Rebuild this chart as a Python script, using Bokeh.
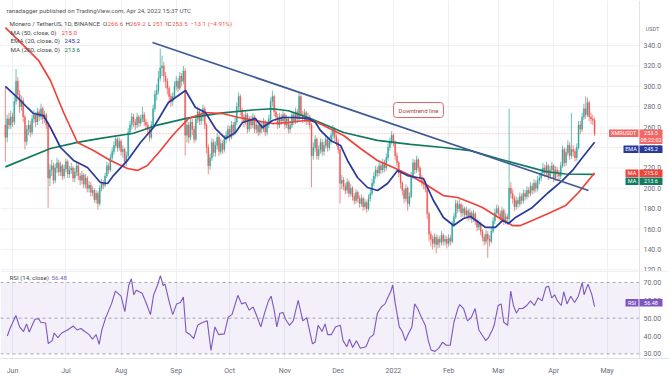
import pandas as pd
from bokeh.plotting import figure
from bokeh.layouts import column
from bokeh.models import (ColumnDataSource, FixedTicker, Label, Span, BoxAnnotation, Range1d)
from bokeh.embed import file_html
from bokeh.resources import INLINE

# ---------------- data ----------------
start_date = "2021-05-28"          # day index 0
month_dates = ["2021-06-01", "2021-07-01", "2021-08-01", "2021-09-01", "2021-10-01", "2021-11-01",
               "2021-12-01", "2022-01-01", "2022-02-01", "2022-03-01", "2022-04-01", "2022-05-01"]
month_labels = ["Jun", "Jul", "Aug", "Sep", "Oct", "Nov", "Dec", "2022", "Feb", "Mar", "Apr", "May"]
price_ticks = [120, 140, 160, 180, 200, 220, 240, 260, 280, 300, 320, 340]
rsi_ticks = [30, 40, 50, 60, 70]

first_open = 262
close = [
    250, 268, 262, 270, 265, 285, 305, 292, 280, 286,
    270, 246, 258, 262, 255, 268, 272, 265, 275, 270,
    278, 268, 272, 262, 210, 218, 222, 208, 220, 225,
    216, 222, 212, 219, 226, 214, 218, 220, 210, 216,
    222, 212, 208, 213, 204, 210, 200, 203, 196, 198,
    189, 195, 185, 200, 205, 203, 212, 222, 218, 230,
    236, 242, 248, 240, 246, 236, 238, 226, 232, 255,
    262, 270, 265, 262, 270, 264, 268, 272, 265, 262,
    258, 250, 262, 278, 292, 296, 308, 318, 320, 310,
    305, 298, 290, 285, 290, 300, 305, 298, 310, 305,
    315, 252, 262, 250, 265, 258, 248, 268, 275, 266,
    270, 278, 262, 240, 222, 230, 245, 235, 242, 250,
    236, 244, 238, 248, 252, 258, 250, 262, 255, 265,
    280, 290, 276, 270, 265, 272, 258, 268, 262, 270,
    258, 262, 255, 262, 258, 265, 255, 262, 268, 285,
    290, 275, 270, 262, 270, 266, 272, 262, 268, 258,
    262, 272, 266, 275, 268, 290, 272, 268, 274, 266,
    270, 262, 232, 240, 248, 232, 238, 245, 236, 242,
    248, 240, 246, 252, 258, 250, 245, 238, 205, 208,
    202, 198, 206, 195, 200, 192, 188, 196, 190, 185,
    190, 182, 186, 180, 190, 195, 205, 212, 218, 215,
    222, 218, 225, 220, 230, 240, 246, 252, 245, 232,
    225, 215, 205, 198, 190, 200, 185, 192, 212, 225,
    218, 228, 220, 210, 206, 204, 200, 175, 155, 150,
    146, 152, 145, 150, 147, 154, 148, 150, 146, 151,
    148, 165, 172, 185, 180, 184, 176, 180, 174, 178,
    172, 176, 170, 175, 168, 162, 165, 158, 152, 148,
    155, 150, 148, 158, 168, 176, 180, 175, 170, 178,
    168, 172, 170, 200, 195, 190, 182, 188, 185, 192,
    188, 195, 192, 198, 195, 202, 198, 205, 200, 208,
    210, 215, 220, 215, 222, 212, 218, 222, 210, 218,
    215, 212, 222, 238, 225, 235, 242, 232, 238, 236,
    230, 240, 262, 258, 270, 278, 272, 284, 270, 268,
    266.6, 253.5]
high = [
    300, 272, 274, 276, 274, 290, 317, 309, 296, 291,
    289, 272, 262, 267, 266, 272, 277, 275, 279, 278,
    283, 280, 276, 274, 265, 224, 228, 225, 224, 230,
    228, 226, 224, 223, 229, 228, 222, 225, 222, 220,
    226, 224, 215, 217, 215, 214, 212, 207, 206, 202,
    200, 198, 197, 203, 209, 208, 215, 226, 225, 234,
    240, 246, 252, 250, 250, 248, 242, 240, 236, 259,
    266, 274, 273, 268, 274, 272, 272, 280, 275, 268,
    265, 260, 266, 282, 296, 302, 315, 337, 330, 324,
    314, 308, 300, 293, 294, 305, 310, 308, 314, 313,
    320, 318, 268, 265, 270, 268, 261, 272, 280, 278,
    275, 282, 280, 264, 243, 234, 249, 248, 246, 254,
    252, 248, 247, 252, 256, 262, 261, 266, 265, 269,
    284, 294, 292, 279, 273, 276, 274, 271, 271, 274,
    272, 266, 265, 266, 265, 269, 267, 266, 272, 289,
    296, 292, 279, 273, 274, 273, 276, 274, 272, 270,
    266, 276, 275, 279, 278, 294, 292, 276, 278, 276,
    274, 272, 264, 245, 252, 250, 242, 249, 248, 246,
    252, 250, 250, 256, 262, 260, 253, 248, 240, 213,
    211, 205, 210, 208, 204, 202, 195, 199, 198, 193,
    194, 192, 190, 188, 194, 199, 209, 216, 222, 221,
    226, 225, 229, 228, 234, 244, 250, 256, 254, 247,
    235, 227, 217, 207, 200, 204, 202, 196, 216, 229,
    228, 232, 230, 222, 213, 209, 207, 202, 177, 158,
    154, 156, 155, 154, 153, 158, 156, 154, 153, 155,
    154, 168, 176, 189, 188, 189, 186, 184, 182, 182,
    180, 180, 178, 179, 177, 170, 169, 167, 160, 155,
    159, 158, 154, 162, 172, 180, 184, 183, 178, 182,
    180, 176, 175, 278, 206, 199, 193, 192, 191, 196,
    195, 199, 198, 202, 201, 206, 205, 209, 208, 212,
    214, 219, 225, 223, 226, 224, 222, 226, 224, 222,
    221, 218, 226, 242, 240, 239, 247, 245, 274, 242,
    239, 244, 266, 266, 274, 283, 290, 289, 286, 274,
    272, 269.2]
low = [
    226, 245, 258, 258, 260, 262, 282, 286, 274, 276,
    265, 238, 242, 252, 250, 252, 264, 260, 262, 266,
    267, 263, 264, 258, 181, 202, 212, 204, 205, 215,
    212, 212, 208, 209, 216, 210, 210, 214, 206, 206,
    212, 208, 203, 204, 200, 200, 196, 196, 192, 192,
    186, 185, 179, 183, 197, 199, 201, 210, 214, 216,
    227, 233, 239, 236, 237, 232, 230, 220, 222, 230,
    252, 258, 260, 257, 259, 260, 261, 265, 261, 257,
    253, 246, 248, 260, 275, 286, 292, 305, 310, 304,
    298, 292, 284, 280, 281, 287, 296, 294, 296, 300,
    302, 232, 245, 244, 247, 252, 244, 246, 264, 262,
    262, 266, 258, 234, 214, 218, 227, 231, 231, 238,
    232, 233, 234, 235, 244, 248, 246, 248, 251, 252,
    262, 276, 272, 265, 260, 262, 254, 255, 258, 259,
    254, 254, 251, 252, 254, 255, 251, 252, 259, 265,
    280, 271, 266, 258, 259, 262, 263, 258, 259, 254,
    254, 259, 262, 263, 264, 266, 268, 264, 265, 262,
    262, 258, 201, 228, 236, 228, 228, 234, 232, 232,
    239, 236, 237, 243, 248, 246, 241, 234, 185, 199,
    198, 194, 195, 191, 192, 188, 184, 185, 186, 181,
    182, 178, 179, 176, 178, 187, 193, 202, 209, 211,
    212, 214, 215, 216, 217, 227, 237, 243, 241, 228,
    221, 211, 200, 193, 185, 187, 178, 182, 190, 209,
    214, 215, 216, 206, 202, 199, 196, 170, 148, 143,
    140, 142, 136, 141, 142, 144, 144, 144, 141, 143,
    144, 146, 162, 170, 176, 177, 172, 172, 170, 171,
    168, 169, 166, 167, 164, 158, 159, 154, 148, 144,
    145, 132, 143, 146, 156, 165, 173, 171, 166, 167,
    164, 165, 164, 166, 190, 185, 178, 179, 181, 182,
    184, 185, 188, 189, 191, 192, 194, 195, 196, 197,
    204, 207, 212, 211, 212, 208, 209, 214, 206, 207,
    211, 208, 209, 220, 221, 222, 232, 228, 229, 231,
    226, 227, 238, 253, 255, 267, 268, 270, 266, 263,
    262, 251.1]

# moving averages (day index, value)
ma50_day = [0, 8.5, 18.6, 25.3, 32.7, 40.5, 49.5, 59, 68.6, 74.2, 79.8, 87.1, 93.9, 102.9, 112.4,
            122, 131, 140.5, 150, 159, 168.4, 174.2, 181, 190, 199.5, 209, 218, 227.6, 237.1, 246,
            254, 261.3, 268, 277, 284.9, 289.4, 296, 305, 314.7, 322, 331]
ma50_val = [357.6, 343, 325.5, 305.7, 274.3, 244.9, 237, 227.3, 219.4, 217.5, 222.4, 237, 251.8, 268.4,
            274.3, 273.3, 269.4, 266.5, 263.5, 264.5, 266.5, 265.5, 259.6, 251.8, 239, 227.3, 220.4,
            212.5, 202.7, 192.9, 191, 186, 181.2, 171.4, 163.5, 163.5, 168.4, 175.3, 183.1, 195.9, 215.0]
ema20_day = [0, 6.8, 12.4, 15.8, 21.4, 25.3, 31, 38.3, 46.1, 53.4, 57.4, 60.7, 68.6, 75.9, 83.2,
             91.6, 101.2, 106.8, 112.4, 118, 123.7, 129.3, 133.2, 140.5, 144.4, 150.1, 155.7, 163,
             170.3, 174.2, 177, 182.7, 188.3, 192.2, 197.8, 203.4, 209.1, 214.7, 220.3, 225.9, 231.5,
             234.9, 240.5, 246.1, 251.8, 257.4, 261.3, 269.8, 275.3, 279.3, 282.7, 286.6, 296.1,
             305.1, 312.9, 318.6, 324.2, 331]
ema20_val = [300, 289, 279, 273.3, 271.4, 259.6, 240, 227.3, 220.4, 205.7, 204.7, 212.5, 227.3, 244.9,
             259.6, 284.1, 295.9, 279.2, 274.3, 258.6, 248.8, 254.7, 264.5, 268.4, 259.6, 266.5, 269.4,
             269.4, 268.4, 264.5, 256.7, 246.9, 242, 227.3, 210.6, 200.8, 197.8, 204.7, 217.5, 212.5,
             210.6, 209.6, 188, 171.4, 163.5, 170.4, 172.4, 161.6, 161.6, 168.4, 165.5, 171.4, 181.2,
             195.9, 207.6, 217.5, 230.2, 245.2]
ma200_day = [0, 25.3, 40.5, 53.4, 72, 85.5, 102.9, 122, 140.5, 150, 159, 171.4, 190, 209, 227.6, 246,
             261.3, 277, 296, 303.4, 314.7, 331]
ma200_val = [221, 239, 245, 249, 254, 262, 269, 274, 277, 278, 276, 268.4, 254.7, 247, 243, 240, 237,
             229, 220, 216.5, 214, 213.6]
trend_day = [82.65, 327.6]
trend_val = [342.9, 197.8]

rsi_day = [1.1, 2.6, 5.9, 8.0, 10.2, 11.9, 13.4, 16.6, 18.8, 19.8,
           22.6, 24.1, 26.3, 27.4, 29.5, 31.7, 34.9, 38.1, 40.3, 42.4,
           44.6, 47.1, 48.9, 51.0, 52.7, 54.2, 56.4, 59.6, 61.8, 65.0,
           67.1, 69.3, 70.8, 72.1, 73.6, 76.8, 79.0, 81.5, 83.3, 85.4,
           87.1, 88.6, 89.7, 91.9, 94.0, 96.2, 98.3, 100.0, 101.5, 103.7,
           105.8, 108.0, 110.1, 113.4, 115.5, 117.7, 119.8, 123.0, 125.2, 127.3,
           130.6, 132.7, 134.9, 137.0, 139.2, 141.3, 143.5, 145.6, 147.8, 149.3,
           151.0, 152.5, 154.2, 156.0, 157.4, 159.6, 161.7, 164.5, 167.1, 169.3,
           172.5, 174.0, 175.7, 177.9, 179.6, 181.1, 183.2, 185.4, 188.2, 189.7,
           191.8, 193.3, 195.1, 197.2, 199.4, 202.6, 204.7, 206.9, 209.0, 211.2,
           213.3, 214.8, 216.6, 217.6, 219.1, 221.3, 223.0, 224.7, 226.2, 228.4,
           229.9, 231.6, 233.8, 235.9, 237.6, 239.1, 241.3, 243.4, 245.6, 247.7,
           249.9, 252.0, 254.2, 255.3, 257.4, 259.6, 261.7, 263.9, 266.0, 268.2,
           269.9, 271.4, 273.6, 274.6, 276.8, 278.5, 280.0, 282.2, 283.9, 285.4,
           287.1, 288.6, 290.7, 292.9, 295.0, 297.2, 299.3, 301.5, 303.7, 305.2,
           306.9, 308.6, 310.1, 312.3, 313.7, 315.5, 317.6, 319.8, 321.9, 324.1,
           325.1, 327.3, 329.5, 331]
rsi_val = [40.0, 44.2, 51.5, 45.1, 42.5, 46.8, 42.2, 49.4, 49.7, 47.7,
           47.3, 35.7, 37.4, 41.7, 39.1, 41.7, 43.4, 45.6, 43.4, 44.2,
           42.5, 40.8, 38.2, 40.8, 35.3, 43.4, 50.3, 58.0, 65.2, 62.3,
           53.7, 68.3, 72.1, 63.1, 65.7, 64.0, 58.8, 52.0, 63.1, 68.3,
           73.8, 68.3, 69.1, 59.7, 52.0, 58.0, 58.8, 61.8, 42.2, 40.8,
           38.6, 46.0, 47.3, 48.5, 31.9, 45.1, 40.8, 41.2, 50.6, 52.0,
           62.8, 58.0, 58.8, 54.5, 56.3, 51.1, 45.1, 52.8, 59.7, 62.3,
           54.5, 45.1, 52.8, 53.2, 49.4, 46.0, 48.5, 60.0, 48.5, 50.3,
           35.7, 36.5, 46.0, 42.5, 46.8, 40.8, 40.8, 45.1, 46.0, 37.4,
           34.0, 38.2, 33.6, 37.4, 33.1, 34.0, 39.1, 40.8, 52.8, 56.3,
           58.0, 61.4, 65.2, 68.6, 58.0, 45.1, 42.5, 37.4, 40.8, 45.1,
           58.0, 55.4, 50.3, 46.0, 37.4, 32.2, 31.4, 33.1, 36.5, 34.8,
           34.8, 47.7, 55.4, 57.6, 55.4, 48.5, 50.3, 55.4, 43.4, 40.0,
           37.4, 39.1, 43.4, 46.0, 57.1, 58.0, 47.7, 46.0, 65.2, 57.1,
           52.8, 55.4, 55.4, 57.1, 59.7, 57.1, 61.4, 59.7, 67.4, 67.9,
           61.4, 63.1, 59.7, 57.1, 64.8, 58.0, 62.3, 58.8, 62.3, 70.0,
           63.1, 69.1, 63.1, 56.48]

# ---------------- styling ----------------
FONT = "Roboto"
UP, DOWN = "#26a69a", "#ef5350"
C_MA50, C_EMA, C_MA200, C_TREND, C_RSI = "#f0433a", "#28399c", "#127a5e", "#3f5a96", "#7e57c2"
GRID = "#eef0f4"
AXC = "#6a6d78"
TXT = "#4a4a4a"
LEGF = "6.2px"
AXF = "7px"

start = pd.Timestamp(start_date)
month_ticks = [(pd.Timestamp(m) - start).days for m in month_dates]
overrides = {t: l for t, l in zip(month_ticks, month_labels)}

opens = [first_open] + close[:-1]
days = list(range(len(close)))
src = ColumnDataSource(dict(
    d=days, low=low, high=high,
    top=[max(o, c) for o, c in zip(opens, close)],
    bottom=[min(o, c) for o, c in zip(opens, close)],
    color=[UP if c >= o else DOWN for o, c in zip(opens, close)],
))

W = 669
AXIS_PX = 639                     # x of the price-scale border
xr = Range1d(-2.742, 373.1)       # frame spans the full width
axis_x = xr.start + (xr.end - xr.start) * AXIS_PX / W


def lab(fig, x, y, text, color=TXT, size=LEGF, align="left", yunits="screen", **kw):
    fig.add_layout(Label(x=x, y=y, x_units="screen", y_units=yunits, text=text,
                         text_color=color, text_font_size=size, text_font=FONT,
                         text_align=align, text_baseline="middle",
                         background_fill_color="white", background_fill_alpha=0.0, **kw))


def box(fig, l, r_, b, t, color):
    fig.add_layout(BoxAnnotation(left=l, right=r_, bottom=b, top=t, left_units="screen",
                                 right_units="screen", bottom_units="screen", top_units="screen",
                                 fill_color=color, fill_alpha=1.0, line_color=None))


def base_fig(height, yr, bottom_border):
    f = figure(width=W, height=height, x_range=xr, y_range=yr, output_backend="svg",
               toolbar_location=None, x_axis_location=None if bottom_border == 0 else "below",
               y_axis_location=None, min_border_left=0, min_border_right=0, min_border_top=0,
               min_border_bottom=bottom_border, outline_line_color=None,
               background_fill_color="white", border_fill_color="white")
    f.xgrid.ticker = FixedTicker(ticks=month_ticks)
    f.xgrid.grid_line_color = GRID
    f.ygrid.grid_line_color = None
    f.add_layout(Span(location=axis_x, dimension="height", line_color="#e0e3eb", line_width=1))
    return f


# ---------------- price panel ----------------
PH = 271
pyr = Range1d(118.43, 384.12)
p = base_fig(PH, pyr, 0)


def py(cy):
    """price value at a given pixel row of the price panel (for text placement)"""
    return pyr.end - cy * (pyr.end - pyr.start) / PH


n = len(price_ticks)
p.segment(x0=[xr.start] * n, y0=price_ticks, x1=[axis_x] * n, y1=price_ticks,
          line_color=GRID, line_width=1)
for t in price_ticks:
    lab(p, 643, t, f"{t:.1f}", AXC, AXF, yunits="data")

p.segment(x0="d", y0="low", x1="d", y1="high", line_color="color", line_width=0.8,
          line_alpha=0.85, source=src)
p.vbar(x="d", width=0.6, top="top", bottom="bottom", fill_color="color", line_color="color",
       line_width=0.4, fill_alpha=0.85, line_alpha=0.85, source=src)

p.segment(x0=[xr.start], y0=[close[-1]], x1=[axis_x], y1=[close[-1]], line_color=DOWN,
          line_alpha=0.55, line_dash="1 2", line_width=1)

p.line(ma200_day, ma200_val, line_color=C_MA200, line_width=1.7)
p.line(ma50_day, ma50_val, line_color=C_MA50, line_width=1.7)
p.line(ema20_day, ema20_val, line_color=C_EMA, line_width=1.7)
p.line(trend_day, trend_val, line_color=C_TREND, line_width=1.7)

# legend texts
D = "data"
lab(p, 6, py(10), "ranadagger published on TradingView.com, Apr 24, 2022 15:37 UTC", "#555555",
    yunits=D)
lab(p, 9, py(23), "Monero / TetherUS, 1D, BINANCE", TXT, yunits=D)
ohlc = [("O", opens[-1], 102.5), ("H", high[-1], 125), ("L", low[-1], 147.5), ("C", close[-1], 167)]
for letter, v, xx in ohlc:
    lab(p, xx, py(23), letter, TXT, yunits=D)
    lab(p, xx + 4.6, py(23), f"{v:.1f}", DOWN, yunits=D)
chg = close[-1] - opens[-1]
lab(p, 190, py(23), f"\u2212{abs(chg):.1f} (\u2212{abs(chg) / opens[-1] * 100:.2f}%)", DOWN,
    yunits=D)
lab(p, 10, py(32), "MA (50, close, 0)", TXT, yunits=D)
lab(p, 61, py(32), f"{ma50_val[-1]:.1f}", C_MA50, yunits=D)
lab(p, 10, py(40.5), "EMA (20, close, 0)", TXT, yunits=D)
lab(p, 64, py(40.5), f"{ema20_val[-1]:.1f}", C_EMA, yunits=D)
lab(p, 10, py(49), "MA (200, close, 0)", TXT, yunits=D)
lab(p, 64, py(49), f"{ma200_val[-1]:.1f}", C_MA200, yunits=D)
lab(p, 652, py(28), "USDT", AXC, "5.5px", align="center", yunits=D)

# callout
p.add_layout(Label(x=418, y=PH - 109.5, x_units="screen", y_units="screen", text="Downtrend line",
                   text_color="#a94442", text_font_size="6px", text_font=FONT, text_align="center",
                   text_baseline="middle", background_fill_color="white",
                   border_line_color="#e06666", border_line_width=1, padding=(5, 4),
                   border_radius=3))

# right-side price tags: (name box left, top y, bottom y) in panel pixels from top
TAGF = "5.5px"
XMRC = "#f26666"


def tag(fig, H, name, name_left, ytop, ybot, val, color, extra=None):
    box(fig, name_left, 638, H - ybot, H - ytop, color)
    box(fig, 639, 662, H - (ybot if extra is None else ybot + 7), H - ytop, color)
    yc = H - (ytop + ybot) / 2
    lab(fig, (name_left + 638) / 2, yc, name, "white", TAGF, align="center")
    lab(fig, 650.5, yc, val, "white", TAGF, align="center")
    if extra:
        lab(fig, 650.5, yc - 7, extra, "white", TAGF, align="center")


tag(p, PH, "XMRUSDT", 608.5, 129, 136.5, f"{close[-1]:.1f}", XMRC, extra="08:22:02")
tag(p, PH, "EMA", 623, 145, 152.5, f"{ema20_val[-1]:.1f}", C_EMA)
tag(p, PH, "MA", 625, 169, 176.5, f"{ma50_val[-1]:.1f}", C_MA50)
tag(p, PH, "MA", 625, 177, 184.5, f"{ma200_val[-1]:.1f}", C_MA200)

# ---------------- RSI panel ----------------
RH = 95
ryr = Range1d(27.4, 76.15)
r = base_fig(RH + 11, ryr, 11)


def ry(cy):
    """RSI value at a given pixel row measured from the top of the RSI panel"""
    return ryr.end - cy * (ryr.end - ryr.start) / RH


r.xaxis.ticker = FixedTicker(ticks=month_ticks)
r.xaxis.major_label_overrides = overrides
r.xaxis.major_tick_line_color = None
r.xaxis.minor_tick_line_color = None
r.xaxis.axis_line_color = "#e0e3eb"
r.xaxis.major_label_text_font_size = AXF
r.xaxis.major_label_text_color = AXC
r.xaxis.major_label_text_font = FONT
r.xaxis.major_label_standoff = 2

r.add_layout(BoxAnnotation(left=xr.start, right=axis_x, bottom=rsi_ticks[0], top=rsi_ticks[-1],
                           fill_color=C_RSI, fill_alpha=0.09, line_color=None))
lv = [rsi_ticks[0], rsi_ticks[2], rsi_ticks[-1]]
r.segment(x0=[xr.start] * 3, y0=lv, x1=[axis_x] * 3, y1=lv, line_color="#9598a1",
          line_dash="3 3", line_width=0.8)
r.add_layout(Span(location=ryr.end, dimension="width", line_color="#e0e3eb", line_width=1))
for t in rsi_ticks:
    lab(r, 643, t, f"{t:.2f}", AXC, AXF, yunits="data")
r.line(rsi_day, rsi_val, line_color=C_RSI, line_width=1.1)

lab(r, 9, ry(7.5), "RSI (14, close)", TXT, yunits=D)
lab(r, 51, ry(7.5), f"{rsi_val[-1]:.2f}", C_RSI, yunits=D)
tag(r, RH, "RSI", 625, 35.5, 43, f"{rsi_val[-1]:.2f}", C_RSI)

layout = column(p, r, spacing=0)
open("out.html", "w").write(file_html(layout, INLINE))
